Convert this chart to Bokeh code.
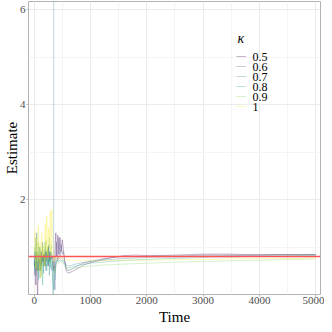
from bokeh.plotting import figure
from bokeh.models import Legend, LegendItem, Span, FixedTicker, ColumnDataSource, Label, Title
from bokeh.embed import file_html
from bokeh.resources import INLINE

NaN = float("nan")

# ---- data ----
time = [0, 15, 30, 45, 60, 75, 90, 105, 120, 135, 150, 165, 180, 195, 210, 225, 240, 255, 270, 285, 300, 315, 330,
        345, 350, 355,
        370, 385, 400, 420, 440, 460, 480, 500, 520, 540,
        570, 600, 650, 700, 800, 900, 1000, 1200, 1400, 1600, 1800, 2000, 2250, 2500, 2750, 3000, 3250, 3500,
        3750, 4000, 4250, 4500, 4750, 5000]

est_k05 = [0.4, 0.7, 0.2, 0.8, -0.1, 0.6, 0.75, 0.5, 0.9, 0.65, 0.8, 0.7, 0.85, 0.6, 0.9, 0.75, 0.8, 1.0, 0.7, 0.9, 0.85, 0.75, 0.8,
           0.7, 0.65, 0.5,
           0.9, 1.3, 0.8, 1.25, 0.85, 1.2, 0.9, 1.15, 0.95, 0.75,
           0.5, 0.45, 0.47, 0.5, 0.57, 0.63, 0.67, 0.73, 0.78, 0.82, 0.83, 0.82, 0.82, 0.83, 0.84, 0.85, 0.85, 0.85,
           0.84, 0.84, 0.84, 0.84, 0.84, 0.84]
est_k06 = [0.8, 0.6, 0.9, 0.7, 0.5, 0.85, 0.65, 0.75, 0.55, 0.9, 0.7, 0.8, 0.6, 0.95, 0.75, 0.7, 0.85, 0.6, 0.9, 0.7, 0.8, 0.75, 0.65,
           0.55, 0.6, 0.4,
           0.1, 0.9, 1.1, 0.7, 1.2, 0.8, 1.05, 0.85, 0.9, 0.7,
           0.55, 0.5, 0.52, 0.56, 0.62, 0.67, 0.7, 0.75, 0.78, 0.8, 0.8, 0.8, 0.81, 0.81, 0.82, 0.83, 0.83, 0.83,
           0.83, 0.83, 0.84, 0.84, 0.84, 0.84]
est_k07 = [0.6, 0.9, 0.4, 1.3, 0.7, 0.5, 1.0, 0.35, 0.8, 0.6, 1.1, 0.45, 0.85, 0.7, 0.5, 0.9, 0.6, 1.05, 0.4, 0.8, 0.65, 0.5, 0.7,
           -60.0, 60.0, NaN,
           0.3, 0.6, 0.74, 0.78, 0.75, 0.77, 0.76, 0.74, 0.72, 0.68,
           0.62, 0.6, 0.61, 0.63, 0.66, 0.68, 0.7, 0.72, 0.74, 0.76, 0.77, 0.78, 0.79, 0.79, 0.8, 0.81, 0.81, 0.82,
           0.82, 0.82, 0.83, 0.83, 0.83, 0.84]
est_k08 = [0.7, 0.5, 1.2, 0.6, 0.9, 0.3, 0.8, 1.0, 0.5, 0.75, 0.2, 0.85, 0.6, 1.1, 0.7, 0.5, 0.95, 0.65, 0.8, 0.55, 0.9, 0.6, 0.3,
           0.2, 0.1, 0.35,
           0.55, 0.65, 0.7, 0.72, 0.7, 0.73, 0.72, 0.7, 0.68, 0.64,
           0.58, 0.56, 0.57, 0.59, 0.62, 0.64, 0.66, 0.68, 0.7, 0.72, 0.73, 0.74, 0.75, 0.76, 0.77, 0.78, 0.79, 0.79,
           0.8, 0.8, 0.81, 0.81, 0.82, 0.82]
est_k09 = [0.8, 1.0, 0.6, 0.9, 0.45, 1.1, 0.7, 0.55, 0.95, 0.4, 1.0, 0.75, 0.9, 0.6, 1.15, 0.7, 1.0, 0.8, 1.2, 0.65, 1.05, 0.9, 0.7,
           0.6, 0.55, 0.5,
           0.45, 0.6, 0.68, 0.7, 0.66, 0.69, 0.7, 0.68, 0.66, 0.62,
           0.55, 0.52, 0.53, 0.55, 0.57, 0.59, 0.6, 0.62, 0.63, 0.64, 0.65, 0.66, 0.67, 0.68, 0.69, 0.7, 0.7, 0.71,
           0.72, 0.72, 0.73, 0.74, 0.74, 0.75]
est_k10 = [0.9, 1.35, 0.55, 1.2, 0.7, 1.45, 0.5, 1.1, 0.35, 1.3, 0.8, 1.05, 0.6, 1.5, 0.9, 1.65, 0.75, 1.4, 1.0, 1.75, 0.85, 1.8, 1.2,
           0.8, 0.7, 0.75,
           0.78, 0.74, 0.76, 0.77, 0.75, 0.77, 0.76, 0.77, 0.75, 0.74,
           0.73, 0.73, 0.72, 0.72, 0.71, 0.71, 0.71, 0.71, 0.72, 0.72, 0.72, 0.72, 0.73, 0.73, 0.74, 0.74, 0.74, 0.75,
           0.75, 0.75, 0.76, 0.76, 0.76, 0.77]

kappa_labels = ["0.5", "0.6", "0.7", "0.8", "0.9", "1"]
kappa_colors = ["#440154", "#414487", "#2A788E", "#22A884", "#7AD151", "#FDE725"]
true_value = 0.8

x_ticks = [0, 1000, 2000, 3000, 4000, 5000]
x_minor = [500, 1500, 2500, 3500, 4500]
y_ticks = [2, 4, 6]
y_minor = [1, 3, 5]
X_START, X_END = -100, 5085
Y_START, Y_END = 0.0, 6.17

# ---- figure ----
FONT = "Liberation Serif"
p = figure(width=324, height=324, output_backend="svg", toolbar_location=None,
           x_range=(X_START, X_END), y_range=(Y_START, Y_END),
           min_border_left=0, min_border_right=4, min_border_top=1, min_border_bottom=0)
p.background_fill_color = "white"
p.outline_line_color = "#b3b3b3"
p.outline_line_width = 1

series = [est_k05, est_k06, est_k07, est_k08, est_k09, est_k10]
src = ColumnDataSource(dict(t=time, **{f"k{i}": s for i, s in enumerate(series)}))
items = []
for i, (lab, col) in enumerate(zip(kappa_labels, kappa_colors)):
    r = p.line(x="t", y=f"k{i}", source=src, line_color=col, line_alpha=0.3, line_width=1)
    items.append(LegendItem(label=" ", renderers=[r]))

p.add_layout(Span(location=true_value, dimension="width", line_color="#ff5555", line_width=1.5))

p.xaxis.ticker = FixedTicker(ticks=x_ticks, minor_ticks=x_minor)
p.yaxis.ticker = FixedTicker(ticks=y_ticks, minor_ticks=y_minor)
for ax in (p.xaxis, p.yaxis):
    ax.axis_line_color = None
    ax.major_tick_line_color = "#b3b3b3"
    ax.major_tick_out = 2
    ax.major_tick_in = 0
    ax.minor_tick_out = 0
    ax.minor_tick_in = 0
    ax.major_label_text_font = FONT
    ax.major_label_text_font_size = "11px"
    ax.major_label_text_color = "#4d4d4d"
    ax.axis_label_text_font = FONT
    ax.axis_label_text_font_size = "15px"
    ax.axis_label_text_font_style = "normal"
    ax.axis_label_text_color = "black"
p.xaxis.major_label_standoff = 0
p.yaxis.major_label_standoff = 1
p.xaxis.axis_label = None
p.yaxis.axis_label = "Estimate"
p.yaxis.axis_label_standoff = -3
p.add_layout(Title(text="Time", align="center", text_font=FONT, text_font_size="15px",
                   text_font_style="normal", text_color="black", standoff=0, offset=0), "below")

p.xgrid.grid_line_color = "#ebebeb"
p.ygrid.grid_line_color = "#ebebeb"
p.xgrid.minor_grid_line_color = "#f4f4f4"
p.ygrid.minor_grid_line_color = "#f4f4f4"

# legend keys (glyphs) + text labels in screen units relative to the frame
LEG_X, LEG_Y, ROW = 208, 184, 10
legend = Legend(items=items, location=(LEG_X, LEG_Y),
                label_text_font=FONT, label_text_font_size="4px",
                glyph_width=10, glyph_height=8, label_height=8, label_width=1, label_standoff=0,
                spacing=ROW - 8, padding=0, margin=0,
                background_fill_alpha=0, border_line_color=None)
p.add_layout(legend)
n = len(kappa_labels)
for i, lab in enumerate(kappa_labels):
    p.add_layout(Label(x=LEG_X + 16, y=LEG_Y + (n - 1 - i) * ROW + 4, x_units="screen", y_units="screen",
                       text=lab, text_font=FONT, text_font_size="12px", text_baseline="middle",
                       text_color="black"))
p.add_layout(Label(x=LEG_X + 1, y=LEG_Y + n * ROW + 12, x_units="screen", y_units="screen",
                   text="κ", text_font=FONT, text_font_size="14px", text_font_style="italic",
                   text_baseline="middle", text_color="black"))

open("out.html", "w").write(file_html(p, INLINE))
